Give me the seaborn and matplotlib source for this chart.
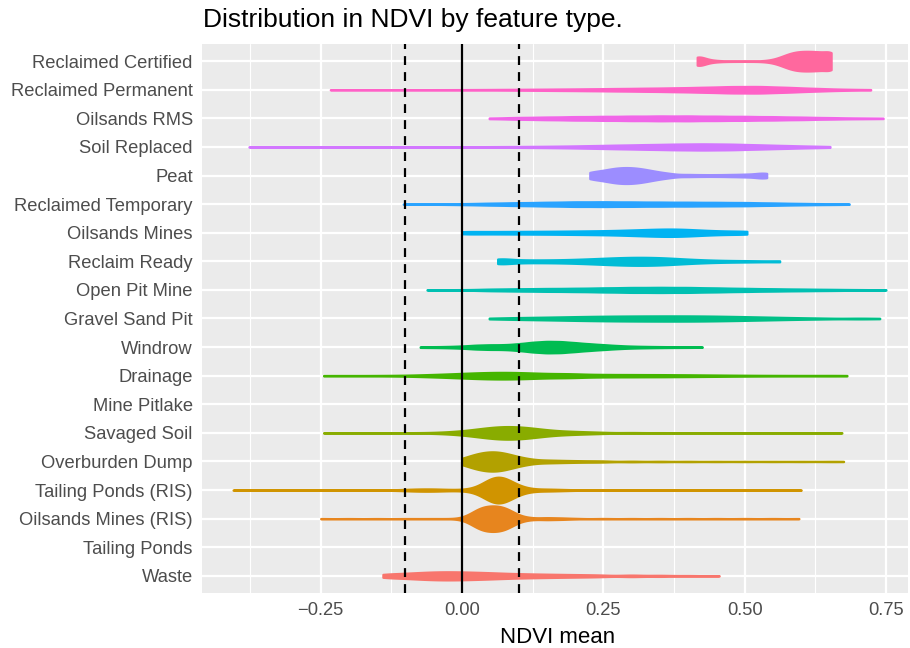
import numpy as np
import pandas as pd
import matplotlib
matplotlib.use("Agg")
import matplotlib.pyplot as plt
import seaborn as sns

# ---------------- data ----------------
# categories, top to bottom as shown on the y axis
categories = ["Reclaimed Certified", "Reclaimed Permanent", "Oilsands RMS", "Soil Replaced",
              "Peat", "Reclaimed Temporary", "Oilsands Mines", "Reclaim Ready",
              "Open Pit Mine", "Gravel Sand Pit", "Windrow", "Drainage", "Mine Pitlake",
              "Savaged Soil", "Overburden Dump", "Tailing Ponds (RIS)",
              "Oilsands Mines (RIS)", "Tailing Ponds", "Waste"]

# NDVI mean values (binned) and how many features fall in each bin
reclaimed_certified_ndvi = [0.416, 0.425, 0.4375, 0.45, 0.4625, 0.475, 0.4875, 0.5, 0.5125, 0.525,
                            0.5375, 0.55, 0.5625, 0.575, 0.5875, 0.6, 0.6125, 0.625, 0.6375, 0.653]
reclaimed_certified_count = [130, 60, 30, 15, 8, 6, 5, 5, 5, 6,
                             14, 34, 80, 145, 190, 205, 205, 200, 195, 300]

reclaimed_permanent_ndvi = [-0.233, -0.175, -0.125, -0.075, -0.025, 0.025, 0.075, 0.125, 0.175, 0.225,
                            0.275, 0.325, 0.375, 0.425, 0.475, 0.525, 0.575, 0.625, 0.675, 0.723]
reclaimed_permanent_count = [12, 12, 12, 12, 14, 24, 38, 52, 70, 92,
                             118, 146, 180, 230, 300, 316, 230, 128, 52, 20]

oilsands_rms_ndvi = [0.048, 0.1, 0.15, 0.2, 0.25, 0.3, 0.35, 0.4, 0.45, 0.5, 0.55, 0.6, 0.65, 0.7, 0.745]
oilsands_rms_count = [24, 64, 88, 116, 132, 148, 160, 160, 144, 132, 112, 84, 52, 28, 16]

soil_replaced_ndvi = [-0.377, -0.325, -0.275, -0.225, -0.175, -0.125, -0.075, -0.025, 0.025, 0.075,
                      0.125, 0.175, 0.225, 0.275, 0.325, 0.375, 0.425, 0.475, 0.525, 0.575,
                      0.625, 0.651]
soil_replaced_count = [12, 12, 12, 12, 12, 12, 14, 18, 26, 40,
                       56, 80, 124, 176, 224, 272, 300, 276, 204, 136,
                       68, 16]

peat_ndvi = [0.226, 0.2375, 0.25, 0.2625, 0.275, 0.2875, 0.3, 0.3125, 0.325, 0.3375,
             0.35, 0.3625, 0.375, 0.4, 0.425, 0.45, 0.475, 0.5, 0.525, 0.539]
peat_count = [110, 90, 125, 165, 190, 200, 195, 180, 150, 115,
              85, 60, 46, 56, 44, 44, 54, 68, 84, 90]

reclaimed_temporary_ndvi = [-0.104, -0.05, 0.0, 0.05, 0.1, 0.15, 0.2, 0.25, 0.3, 0.35,
                            0.4, 0.45, 0.5, 0.55, 0.6, 0.65, 0.685]
reclaimed_temporary_count = [16, 24, 60, 120, 172, 220, 272, 280, 260, 240,
                             228, 212, 192, 140, 88, 48, 16]

oilsands_mines_ndvi = [0.0, 0.025, 0.05, 0.075, 0.1, 0.125, 0.15, 0.175, 0.2, 0.225,
                       0.25, 0.275, 0.3, 0.325, 0.35, 0.375, 0.4, 0.425, 0.45, 0.475, 0.504]
oilsands_mines_count = [50, 40, 40, 42, 44, 46, 48, 52, 56, 62,
                        66, 76, 90, 106, 120, 126, 110, 84, 64, 56, 70]

reclaim_ready_ndvi = [0.063, 0.075, 0.1, 0.125, 0.15, 0.175, 0.2, 0.225, 0.25, 0.275,
                      0.3, 0.325, 0.35, 0.375, 0.4, 0.425, 0.45, 0.475, 0.5, 0.525, 0.562]
reclaim_ready_count = [90, 60, 52, 48, 50, 56, 68, 86, 106, 126,
                       140, 140, 130, 104, 76, 54, 38, 30, 24, 22, 30]

open_pit_mine_ndvi = [-0.062, -0.01, 0.05, 0.1, 0.15, 0.2, 0.25, 0.3, 0.35, 0.4,
                      0.45, 0.5, 0.55, 0.6, 0.65, 0.7, 0.75]
open_pit_mine_count = [12, 24, 68, 92, 112, 128, 160, 192, 200, 192,
                       156, 120, 92, 68, 48, 28, 14]

gravel_sand_pit_ndvi = [0.048, 0.075, 0.1, 0.125, 0.15, 0.175, 0.2, 0.225, 0.25, 0.275,
                        0.3, 0.325, 0.35, 0.375, 0.4, 0.425, 0.45, 0.475, 0.5, 0.525,
                        0.55, 0.575, 0.6, 0.625, 0.65, 0.7, 0.739]
gravel_sand_pit_count = [20, 30, 40, 48, 56, 66, 76, 86, 92, 98,
                         102, 104, 106, 106, 106, 102, 96, 86, 76, 64,
                         54, 42, 32, 24, 20, 32, 16]

windrow_ndvi = [-0.074, -0.05, -0.025, 0.0, 0.025, 0.05, 0.075, 0.1, 0.125, 0.15,
                0.175, 0.2, 0.225, 0.25, 0.275, 0.3, 0.325, 0.35, 0.375, 0.4, 0.425]
windrow_count = [16, 20, 30, 50, 90, 106, 106, 150, 220, 260,
                 250, 200, 150, 110, 70, 44, 32, 24, 18, 16, 10]

drainage_ndvi = [-0.245, -0.2, -0.15, -0.125, -0.1, -0.075, -0.05, -0.025, 0.0, 0.025,
                 0.05, 0.075, 0.1, 0.125, 0.15, 0.175, 0.2, 0.25, 0.3, 0.35,
                 0.4, 0.45, 0.5, 0.55, 0.6, 0.65, 0.681]
drainage_count = [20, 20, 20, 12, 20, 40, 60, 80, 110, 140,
                  160, 166, 156, 130, 100, 84, 144, 120, 112, 104,
                  88, 64, 44, 32, 28, 28, 16]

mine_pitlake_ndvi = []
mine_pitlake_count = []

savaged_soil_ndvi = [-0.245, -0.2, -0.15, -0.1, -0.075, -0.05, -0.025, 0.0, 0.025, 0.05,
                     0.075, 0.1, 0.125, 0.15, 0.175, 0.2, 0.225, 0.25, 0.3, 0.35,
                     0.4, 0.45, 0.5, 0.55, 0.6, 0.672]
savaged_soil_count = [12, 12, 12, 12, 10, 20, 46, 86, 160, 240,
                      286, 270, 210, 130, 84, 64, 44, 30, 32, 22,
                      20, 20, 20, 20, 20, 16]

overburden_dump_ndvi = [0.0, 0.0125, 0.025, 0.0375, 0.05, 0.0625, 0.075, 0.0875, 0.1, 0.1125,
                        0.125, 0.15, 0.175, 0.2, 0.225, 0.25, 0.3, 0.35, 0.4, 0.45,
                        0.5, 0.55, 0.6, 0.65, 0.675]
overburden_dump_count = [80, 150, 210, 255, 275, 275, 240, 175, 120, 85,
                         65, 80, 60, 46, 36, 40, 32, 26, 20, 16,
                         14, 14, 14, 14, 8]

tailing_ponds_ris_ndvi = [-0.405, -0.35, -0.3, -0.25, -0.2, -0.15, -0.125, -0.1, -0.075, -0.05,
                          -0.025, 0.0, 0.0125, 0.025, 0.0375, 0.05, 0.0625, 0.075, 0.0875, 0.1,
                          0.1125, 0.125, 0.15, 0.175, 0.2, 0.25, 0.3, 0.35, 0.4, 0.45,
                          0.5, 0.55, 0.6]
tailing_ponds_ris_count = [8, 8, 8, 8, 8, 10, 8, 30, 50, 50,
                           30, 20, 18, 40, 130, 280, 330, 300, 180, 80,
                           45, 30, 46, 28, 14, 12, 10, 10, 10, 10,
                           10, 10, 8]

oilsands_mines_ris_ndvi = [-0.25, -0.2, -0.15, -0.1, -0.075, -0.05, -0.025, 0.0, 0.0125, 0.025,
                           0.0375, 0.05, 0.0625, 0.075, 0.0875, 0.1, 0.1125, 0.125, 0.15, 0.175,
                           0.2, 0.25, 0.3, 0.35, 0.4, 0.45, 0.5, 0.55, 0.596]
oilsands_mines_ris_count = [8, 8, 8, 8, 6, 8, 6, 20, 80, 220,
                            290, 300, 300, 280, 180, 70, 30, 25, 50, 36,
                            16, 12, 10, 10, 10, 10, 10, 10, 8]

tailing_ponds_ndvi = []
tailing_ponds_count = []

waste_ndvi = [-0.14, -0.125, -0.1, -0.075, -0.05, -0.025, 0.0, 0.025, 0.05, 0.075,
              0.1, 0.125, 0.15, 0.175, 0.2, 0.225, 0.25, 0.3, 0.35, 0.4, 0.455]
waste_count = [30, 45, 65, 85, 100, 105, 100, 90, 80, 65,
               55, 48, 42, 37, 32, 28, 24, 36, 26, 16, 6]

reference_lines = [-0.1, 0.0, 0.1]          # dashed, solid, dashed
x_ticks = [-0.25, 0.0, 0.25, 0.5, 0.75]
x_tick_labels = ["\u22120.25", "0.00", "0.25", "0.50", "0.75"]
x_minor_ticks = [-0.375, -0.125, 0.125, 0.375, 0.625]

series = {
    "Reclaimed Certified": (reclaimed_certified_ndvi, reclaimed_certified_count),
    "Reclaimed Permanent": (reclaimed_permanent_ndvi, reclaimed_permanent_count),
    "Oilsands RMS": (oilsands_rms_ndvi, oilsands_rms_count),
    "Soil Replaced": (soil_replaced_ndvi, soil_replaced_count),
    "Peat": (peat_ndvi, peat_count),
    "Reclaimed Temporary": (reclaimed_temporary_ndvi, reclaimed_temporary_count),
    "Oilsands Mines": (oilsands_mines_ndvi, oilsands_mines_count),
    "Reclaim Ready": (reclaim_ready_ndvi, reclaim_ready_count),
    "Open Pit Mine": (open_pit_mine_ndvi, open_pit_mine_count),
    "Gravel Sand Pit": (gravel_sand_pit_ndvi, gravel_sand_pit_count),
    "Windrow": (windrow_ndvi, windrow_count),
    "Drainage": (drainage_ndvi, drainage_count),
    "Mine Pitlake": (mine_pitlake_ndvi, mine_pitlake_count),
    "Savaged Soil": (savaged_soil_ndvi, savaged_soil_count),
    "Overburden Dump": (overburden_dump_ndvi, overburden_dump_count),
    "Tailing Ponds (RIS)": (tailing_ponds_ris_ndvi, tailing_ponds_ris_count),
    "Oilsands Mines (RIS)": (oilsands_mines_ris_ndvi, oilsands_mines_ris_count),
    "Tailing Ponds": (tailing_ponds_ndvi, tailing_ponds_count),
    "Waste": (waste_ndvi, waste_count),
}

frames = []
for cat, (vals, cnts) in series.items():
    if len(vals):
        frames.append(pd.DataFrame({"type": cat,
                                    "ndvi": np.repeat(np.asarray(vals, float), cnts)}))
df = pd.concat(frames, ignore_index=True)


# ---------------- ggplot2 default hue palette ----------------
def hue_pal(n, h0=15.0, c=100.0, l=65.0):
    hues = np.linspace(h0, h0 + 360.0, n + 1)[:-1]
    Xn, Yn, Zn = 95.047, 100.0, 108.883
    den = Xn + 15 * Yn + 3 * Zn
    un, vn = 4 * Xn / den, 9 * Yn / den
    cols = []
    for hh in hues:
        hr = np.deg2rad(hh)
        U, V = c * np.cos(hr), c * np.sin(hr)
        Y = Yn * ((l + 16) / 116) ** 3
        up = U / (13 * l) + un
        vp = V / (13 * l) + vn
        X = Y * 9 * up / (4 * vp)
        Z = Y * (12 - 3 * up - 20 * vp) / (4 * vp)
        X, Y, Z = X / 100, Y / 100, Z / 100
        rgb = np.array([3.2404542 * X - 1.5371385 * Y - 0.4985314 * Z,
                        -0.9692660 * X + 1.8760108 * Y + 0.0415560 * Z,
                        0.0556434 * X - 0.2040259 * Y + 1.0572252 * Z])
        rgb = np.where(rgb <= 0.0031308, 12.92 * rgb, 1.055 * np.abs(rgb) ** (1 / 2.4) - 0.055)
        cols.append(tuple(np.clip(rgb, 0, 1)))
    return cols


# fill scale only uses the levels that have data (bottom-up factor order)
levels_with_data = [c for c in categories[::-1] if len(series[c][0])]
pal_list = hue_pal(len(levels_with_data))
palette = {cat: pal_list[i] for i, cat in enumerate(levels_with_data)}
for cat in categories:
    palette.setdefault(cat, (0.5, 0.5, 0.5))

# ---------------- figure ----------------
sns.set_theme(style="darkgrid")
plt.rcParams["font.family"] = ["Liberation Sans", "DejaVu Sans"]

fig = plt.figure(figsize=(9.1, 6.48), dpi=100)
ax = fig.add_axes([202 / 910, 1 - 593 / 648, 706 / 910, 549 / 648])
ax.set_facecolor("#EBEBEB")

sns.violinplot(data=df, x="ndvi", y="type", hue="type", order=categories,
               hue_order=categories, palette=palette, legend=False, orient="y",
               cut=0, inner=None, density_norm="area", common_norm=True,
               bw_method=0.15, width=0.9, linewidth=1.6, gridsize=400,
               saturation=1, ax=ax)

for coll in ax.collections:
    coll.set_edgecolor(coll.get_facecolor())
    coll.set_linewidth(1.6)
    coll.set_zorder(2)

for xv in reference_lines:
    ax.axvline(xv, color="black", lw=1.6, zorder=5,
               linestyle="-" if xv == 0 else (0, (4.0, 3.2)))

ax.set_xlim(-0.46, 0.789)
ax.set_ylim(18.6, -0.6)
ax.set_xticks(x_ticks)
ax.set_xticklabels(x_tick_labels)
ax.set_xticks(x_minor_ticks, minor=True)
ax.set_yticks(range(len(categories)))
ax.set_yticklabels(categories)

ax.set_axisbelow(True)
ax.grid(False)
ax.grid(which="major", axis="both", color="white", lw=1.6)
ax.grid(which="minor", axis="x", color="white", lw=0.8)
for s in ax.spines.values():
    s.set_visible(False)

ax.tick_params(axis="both", which="major", length=3.6, width=1.5, color="#333333",
               labelsize=13.2, labelcolor="#4D4D4D", pad=3.0)
ax.tick_params(axis="x", which="minor", length=0)

ax.set_xlabel("NDVI mean", fontsize=16, color="black")
ax.xaxis.set_label_coords(0.503, -0.0911)
ax.xaxis.label.set_va("baseline")
ax.set_ylabel("")

fig.text(203 / 910, 1 - 27 / 648, "Distribution in NDVI by feature type.",
         fontsize=19, color="black", ha="left", va="baseline")

fig.savefig("out.png", dpi=100, facecolor="white")
